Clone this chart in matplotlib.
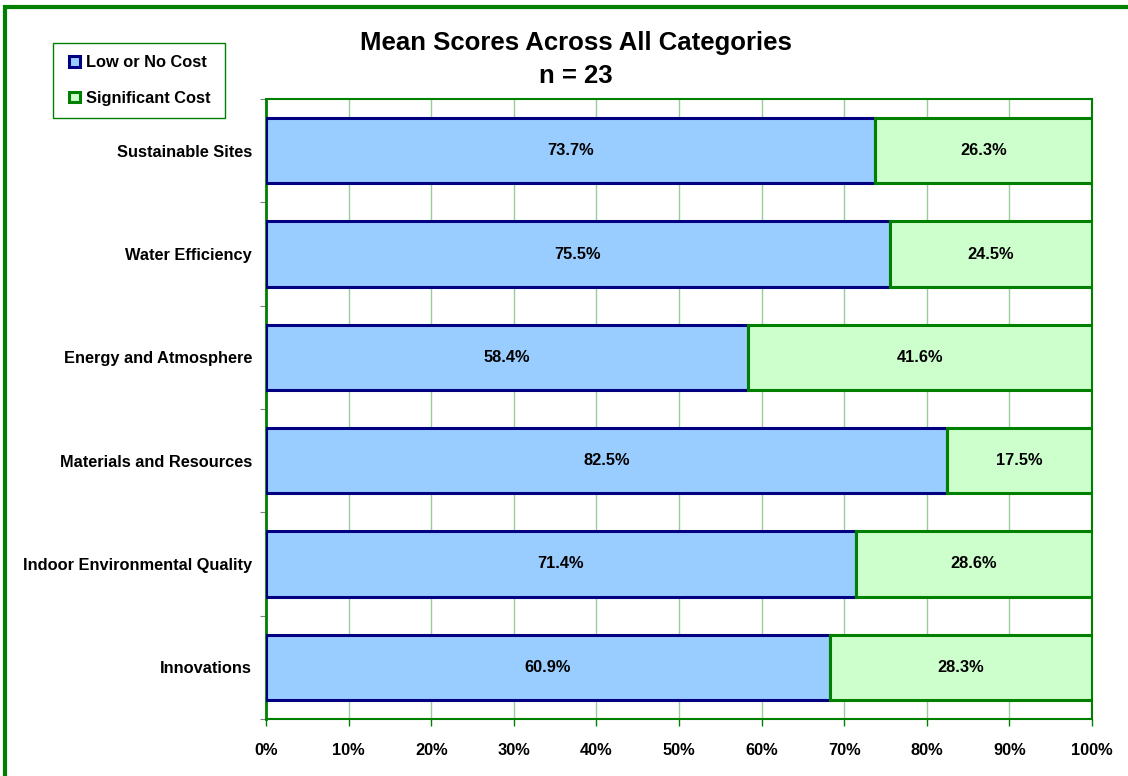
import matplotlib
matplotlib.use("Agg")
import matplotlib.pyplot as plt
from matplotlib.patches import Rectangle, Patch
import numpy as np

categories = ["Sustainable Sites", "Water Efficiency", "Energy and Atmosphere",
              "Materials and Resources", "Indoor Environmental Quality", "Innovations"]
low_cost = [73.7, 75.5, 58.4, 82.5, 71.4, 60.9]
sig_cost = [26.3, 24.5, 41.6, 17.5, 28.6, 28.3]
series_names = ["Low or No Cost", "Significant Cost"]
xtick_labels = ["0%", "10%", "20%", "30%", "40%", "50%", "60%", "70%", "80%", "90%", "100%"]

plt.rcParams['font.family'] = ['Liberation Sans', 'DejaVu Sans']

W, H = 1128, 776
fig = plt.figure(figsize=(W / 100, H / 100), dpi=100)
ax = fig.add_axes([266 / W, 1 - 719 / H, (1092 - 266) / W, (719 - 99) / H])

green = "#008000"
navy = "#000080"
blue_fill = "#99CCFF"
green_fill = "#CCFFCC"

low = np.array(low_cost)
sig = np.array(sig_cost)
tot = low + sig
low_n = low / tot * 100
sig_n = sig / tot * 100

fs = 11.8
y = np.arange(len(categories))
bh = 0.63
ax.barh(y, low_n, height=bh, color=blue_fill, edgecolor=navy, linewidth=2.2, zorder=3)
ax.barh(y, sig_n, left=low_n, height=bh, color=green_fill, edgecolor=green, linewidth=2.2, zorder=3)

for i in range(len(categories)):
    ax.text(low_n[i] / 2, y[i], f"{low[i]:.1f}%", ha="center", va="center",
            fontsize=fs, fontweight="bold", zorder=4)
    ax.text(low_n[i] + sig_n[i] / 2, y[i], f"{sig[i]:.1f}%", ha="center", va="center",
            fontsize=fs, fontweight="bold", zorder=4)

ax.set_xlim(0, 100)
ax.set_ylim(len(categories) - 0.5, -0.5)
ax.set_xticks(np.arange(0, 101, 10))
ax.set_xticklabels(xtick_labels, fontsize=fs, fontweight="bold")
ax.set_yticks(y)
ax.set_yticklabels(categories, fontsize=fs, fontweight="bold")
ax.tick_params(axis="y", length=0, pad=10)
ax.set_yticks(np.arange(-0.5, len(categories), 1), minor=True)
ax.tick_params(axis="y", which="minor", length=4, color="#808080", width=0.8)
ax.tick_params(axis="x", length=5, color=green, width=1, pad=12)
ax.xaxis.grid(True, color="#99CC99", linewidth=1, zorder=0)
ax.set_axisbelow(True)
for s in ax.spines.values():
    s.set_color(green)
    s.set_linewidth(1.5)
ax.spines["left"].set_linewidth(2)

fig.text(576 / W, 1 - 50 / H, "Mean Scores Across All Categories", ha="center", va="baseline",
         fontsize=18.5, fontweight="bold")
fig.text(576 / W, 1 - 83 / H, "n = 23", ha="center", va="baseline",
         fontsize=18.5, fontweight="bold")

# legend frame
fig.patches.append(Rectangle((53 / W, 1 - 118 / H), (225 - 53) / W, (118 - 43) / H,
                             transform=fig.transFigure, fill=True, facecolor="white",
                             edgecolor=green, linewidth=1, zorder=5))
handles = [Patch(facecolor=blue_fill, edgecolor=navy, linewidth=2.2),
           Patch(facecolor=green_fill, edgecolor=green, linewidth=2.2)]
leg = fig.legend(handles, series_names, loc="upper left",
                 bbox_to_anchor=(57 / W, 1 - 43 / H), prop={"weight": "bold", "size": fs},
                 frameon=False, handlelength=0.65, handleheight=0.65,
                 handletextpad=0.4, labelspacing=1.25, borderpad=0.75, borderaxespad=0)
leg.set_zorder(6)

fig.patches.append(Rectangle((5 / W, -0.1), 1.2, 1 - 7 / H + 0.1, transform=fig.transFigure,
                             fill=False, edgecolor=green, linewidth=3, zorder=0))

fig.savefig("out.png", dpi=100)
